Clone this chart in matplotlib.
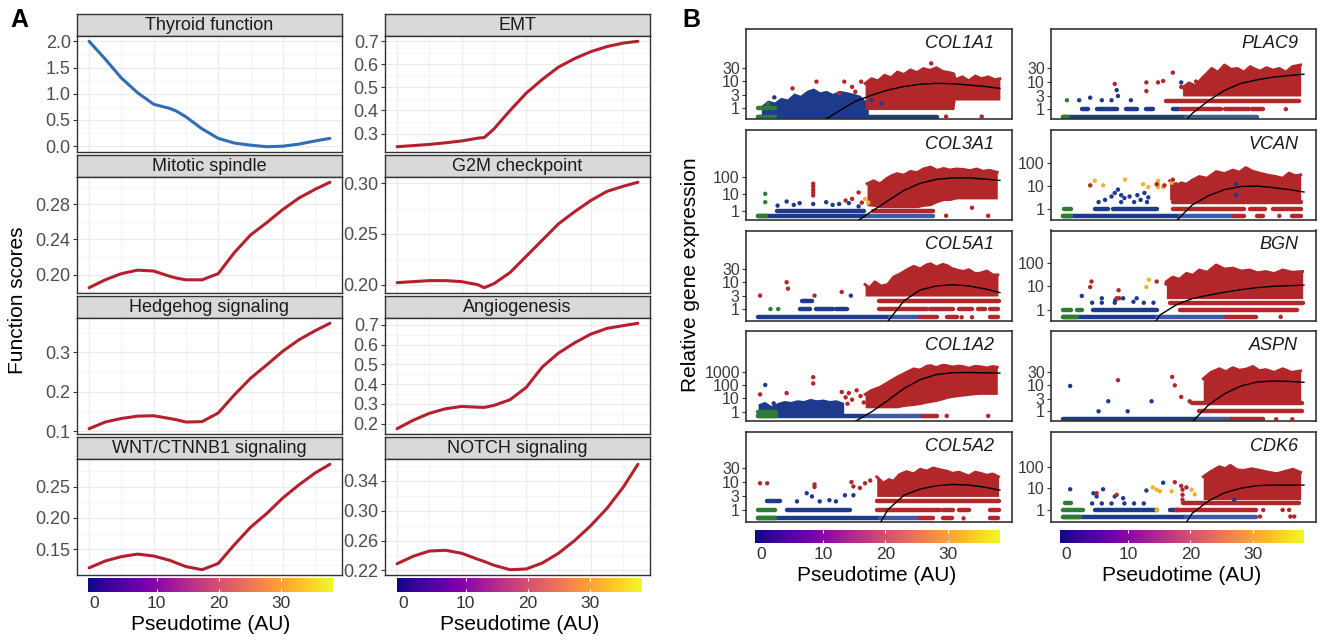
"""Pseudotime trends: (A) smoothed function scores, (B) marker gene expression."""

import numpy as np
import matplotlib.pyplot as plt
from matplotlib import rcParams
from matplotlib.ticker import NullLocator

rcParams.update({
    "font.family": ["Liberation Sans", "DejaVu Sans"],
    "font.size": 12,
})

FIG_W, FIG_H = 1322, 642

# ---- panel A: smoothed function scores along pseudotime ----
A_X = [0, 2.5, 5, 7.5, 10, 12.5, 13.5, 15, 17.5, 20, 22.5, 25, 27.5, 30, 32.5, 35, 37.3]
THYROID = [2.00, 1.66, 1.30, 1.02, 0.80, 0.72, 0.67, 0.56, 0.33, 0.15, 0.06, 0.02, -0.01, 0.00, 0.04, 0.10, 0.15]
EMT = [0.243, 0.248, 0.253, 0.260, 0.268, 0.280, 0.283, 0.320, 0.400, 0.475, 0.535, 0.588, 0.625, 0.655, 0.677, 0.692, 0.700]
MITOTIC = [0.185, 0.194, 0.201, 0.205, 0.204, 0.198, 0.196, 0.194, 0.194, 0.201, 0.225, 0.245, 0.259, 0.274, 0.287, 0.297, 0.305]
G2M = [0.202, 0.203, 0.204, 0.204, 0.203, 0.200, 0.197, 0.201, 0.212, 0.228, 0.244, 0.260, 0.272, 0.283, 0.292, 0.297, 0.301]
HEDGEHOG = [0.106, 0.123, 0.132, 0.138, 0.139, 0.132, 0.129, 0.123, 0.124, 0.146, 0.192, 0.234, 0.268, 0.303, 0.332, 0.355, 0.374]
ANGIO = [0.174, 0.217, 0.252, 0.275, 0.287, 0.283, 0.282, 0.292, 0.321, 0.383, 0.487, 0.557, 0.609, 0.653, 0.682, 0.696, 0.708]
WNT = [0.120, 0.131, 0.138, 0.142, 0.139, 0.132, 0.128, 0.122, 0.117, 0.127, 0.157, 0.185, 0.207, 0.232, 0.253, 0.272, 0.286]
NOTCH = [0.229, 0.239, 0.246, 0.247, 0.243, 0.235, 0.232, 0.227, 0.221, 0.222, 0.230, 0.243, 0.260, 0.280, 0.303, 0.331, 0.362]

A_GRID = [
    [("Thyroid function", THYROID, [0.0, 0.5, 1.0, 1.5, 2.0], "%.1f"),
     ("EMT", EMT, [0.3, 0.4, 0.5, 0.6, 0.7], "%.1f")],
    [("Mitotic spindle", MITOTIC, [0.20, 0.24, 0.28], "%.2f"),
     ("G2M checkpoint", G2M, [0.20, 0.25, 0.30], "%.2f")],
    [("Hedgehog signaling", HEDGEHOG, [0.1, 0.2, 0.3], "%.1f"),
     ("Angiogenesis", ANGIO, [0.2, 0.3, 0.4, 0.5, 0.6, 0.7], "%.1f")],
    [("WNT/CTNNB1 signaling", WNT, [0.15, 0.20, 0.25], "%.2f"),
     ("NOTCH signaling", NOTCH, [0.22, 0.26, 0.30, 0.34], "%.2f")],
]

# ---- panel B: expression of marker genes ----
GENES_LEFT = ["COL1A1", "COL3A1", "COL5A1", "COL1A2", "COL5A2"]
GENES_RIGHT = ["PLAC9", "VCAN", "BGN", "ASPN", "CDK6"]
B_YTICKS = {
    "COL1A1": [1, 3, 10, 30], "PLAC9": [1, 3, 10, 30],
    "COL3A1": [1, 10, 100], "VCAN": [1, 10, 100],
    "COL5A1": [1, 3, 10, 30], "BGN": [1, 10, 100],
    "COL1A2": [1, 10, 100, 1000], "ASPN": [1, 3, 10, 30],
    "COL5A2": [1, 3, 10, 30], "CDK6": [1, 10, 100],
}
B_YLIM = {
    "COL1A1": (0.41, 760), "PLAC9": (0.44, 800),
    "COL3A1": (0.29, 63000), "VCAN": (0.34, 2830),
    "COL5A1": (0.38, 760), "BGN": (0.35, 2390),
    "COL1A2": (0.2, 1e6), "ASPN": (0.42, 1070),
    "COL5A2": (0.37, 585), "CDK6": (0.28, 3900),
}

# fitted trend (black line)
B_CURVE_X = [0, 2.5, 5, 7.5, 10, 12.5, 15, 17.5, 20, 22.5, 25, 27.5, 30, 32.5, 35, 37.3]
B_CURVE = {
    "COL1A1": [0.1, 0.12, 0.15, 0.2, 0.35, 0.8, 1.8, 3.0, 4.6, 6.2, 7.5, 8.1, 7.8, 7.0, 6.2, 5.3],
    "PLAC9": [0.02, 0.02, 0.02, 0.02, 0.02, 0.03, 0.05, 0.15, 0.7, 2.0, 4.8, 8.5, 11.5, 14.4, 16.5, 18.5],
    "COL3A1": [0.01, 0.01, 0.01, 0.01, 0.02, 0.04, 0.2, 0.9, 3.8, 16, 42, 72, 88, 88, 75, 62],
    "VCAN": [0.01, 0.01, 0.01, 0.01, 0.01, 0.01, 0.02, 0.3, 1.5, 3.8, 7.0, 9.5, 10, 8.6, 7.0, 5.5],
    "COL5A1": [0.01, 0.01, 0.01, 0.01, 0.01, 0.01, 0.01, 0.05, 0.35, 2.0, 5.0, 7.0, 7.8, 7.0, 5.5, 4.0],
    "BGN": [0.01, 0.01, 0.01, 0.01, 0.01, 0.05, 0.6, 1.6, 3.0, 4.2, 5.6, 7.2, 8.8, 10, 10.7, 11.2],
    "COL1A2": [0.01, 0.01, 0.01, 0.01, 0.01, 0.01, 0.2, 1.0, 7, 55, 250, 600, 820, 850, 800, 770],
    "ASPN": [0.01, 0.01, 0.01, 0.01, 0.01, 0.01, 0.01, 0.02, 0.4, 1.7, 4.6, 9.0, 12.8, 14, 13.5, 12.5],
    "COL5A2": [0.01, 0.01, 0.01, 0.01, 0.01, 0.01, 0.01, 0.1, 1.0, 3.3, 5.5, 7.2, 8.0, 7.6, 6.4, 5.0],
    "CDK6": [0.01, 0.01, 0.01, 0.01, 0.01, 0.01, 0.01, 0.05, 0.7, 2.6, 6.2, 10, 13.2, 14, 14, 14],
}

# dense clouds of cells: outline
RED_CLOUD_X = {
    "COL1A1": [16.5, 17.5, 18.5, 19.5, 20.5, 21.5, 22.5, 23.5, 24.5, 25.5, 26.5, 27.5,
               28.5, 29.5, 30.2, 30.4, 31.5, 32.5, 33.5, 34.5, 35.5, 36.5, 37.3],
    "PLAC9": [18.5, 19.5, 20.5, 21.6, 22.3, 23, 24, 25, 26, 27, 28, 29, 29.5, 30.5,
              31.5, 32.5, 33.5, 34.5, 35.5, 36.8],
    "COL3A1": [16.8, 17.8, 18.8, 19.8, 20.6, 21.4, 22.5, 23.5, 24.5, 25.5, 26.6, 27.6,
               28.6, 29.6, 30.6, 31.7, 32.7, 33.7, 34.7, 35.7, 36.9],
    "VCAN": [16.5, 17.5, 18.3, 19.1, 20, 21.1, 22.3, 23.7, 25, 26.3, 27.3, 28.3, 29.3,
             30.4, 31.7, 33, 34, 35, 36, 36.8],
    "COL5A1": [16.5, 17.2, 18, 19, 20, 20.9, 22, 23, 24, 25, 26, 26.6, 27.5, 28.5, 29.1,
               30, 31, 31.7, 32.5, 33.5, 34.3, 35.3, 36.2, 37],
    "BGN": [16, 17, 18, 19.1, 20.1, 21.1, 22.3, 23.7, 25, 26.3, 27.6, 28.9, 30.1, 31.4,
            32.7, 34, 35.5, 37.1],
    "COL1A2": [16.5, 17.5, 18.8, 20, 21.4, 22.5, 24, 25, 26, 26.6, 27.5, 28.5, 29.1, 30,
               31, 31.7, 32.5, 33.5, 34.3, 35.3, 36.2, 36.9],
    "ASPN": [21.7, 22.9, 24.2, 25.2, 26.3, 27.3, 28.4, 29.4, 30.4, 31.4, 32.7, 34, 35.4, 36.8],
    "COL5A2": [18.3, 19.3, 20.2, 20.9, 21.8, 22.9, 24, 25, 26, 27, 28, 29.1, 30, 31, 31.7,
               32.5, 33.5, 34.3, 35.3, 36.2, 37.1],
    "CDK6": [21.7, 22.9, 24.2, 25.1, 25.9, 27, 28, 29.2, 30.5, 31.8, 33.1, 34.3, 35.6, 36.8],
}
RED_CLOUD_TOP = {
    "COL1A1": [8, 12, 10, 16, 13, 21, 17, 25, 20, 28, 24, 30, 22, 20, 18, 11, 14, 10, 15,
               12, 14, 11, 12],
    "PLAC9": [6, 9, 7, 14, 20, 30, 22, 40, 28, 30, 22, 35, 30, 24, 32, 26, 30, 22, 35, 40],
    "COL3A1": [40, 60, 39, 80, 120, 158, 130, 216, 180, 300, 390, 250, 320, 260, 300, 280,
               240, 300, 220, 250, 190],
    "VCAN": [17, 10, 14, 12, 18, 26, 22, 43, 35, 50, 40, 64, 45, 37, 30, 26, 22, 37, 28, 31],
    "COL5A1": [8, 6, 10, 7, 8, 15, 20, 28, 37, 30, 42, 46, 35, 44, 40, 30, 26, 24, 28, 20,
               21, 25, 18, 18],
    "BGN": [16, 25, 20, 36, 30, 50, 40, 82, 55, 60, 45, 50, 38, 43, 35, 50, 40, 43],
    "COL1A2": [20, 40, 68, 150, 380, 700, 1600, 1300, 2500, 2800, 2000, 3000, 2800, 2200,
               2600, 2300, 1800, 2500, 2300, 1900, 2400, 2100],
    "ASPN": [17, 30, 41, 32, 45, 36, 40, 50, 35, 38, 30, 41, 30, 34],
    "COL5A2": [15, 9, 12, 10.5, 18, 23, 19, 28, 24, 31, 27, 24, 20, 22, 19, 16, 22, 20, 17,
               19, 15],
    "CDK6": [34, 60, 99, 80, 115, 70, 67, 80, 67, 55, 47, 60, 76, 54],
}
RED_CLOUD_LOW = {
    "COL1A1": [0.9, 0.9, 0.9, 0.9, 0.9, 0.9, 0.9, 0.9, 0.9, 0.9, 0.9, 0.9, 0.9, 0.9, 0.9,
               2, 2, 2, 2, 2, 2, 2, 2],
    "PLAC9": [3, 3, 3, 3, 3, 3, 3, 3, 3, 3, 3, 3, 3, 3, 3, 3, 3, 3, 3, 3],
    "COL3A1": [2, 1.8, 1.5, 1.5, 1.5, 1.5, 1.5, 1.5, 1.5, 1.8, 2, 3, 4, 4, 5, 5, 5, 5, 5,
               5, 5],
    "VCAN": [2.5, 2.5, 2.5, 2.5, 2.5, 2.5, 2.5, 2.5, 2.5, 2.5, 2.5, 2.5, 2.5, 2.5, 2.5,
             2.5, 2.5, 2.5, 2.5, 2.5],
    "COL5A1": [3, 3, 3, 3, 3, 3, 3, 3, 3, 3, 3, 3, 3, 3, 3, 3, 3, 3, 3, 3, 3, 3, 3, 3],
    "BGN": [3, 3, 3, 3, 3, 3, 3, 3, 3, 3, 3, 3, 3, 3, 3, 3, 3, 3],
    "COL1A2": [2, 2, 2, 2, 2, 2.5, 3, 3.5, 4.5, 5, 6, 8, 10, 12, 14, 15, 17, 19, 20, 20,
               20, 20],
    "ASPN": [2.5, 2.5, 2.5, 2.5, 2.5, 2.5, 2.5, 2.5, 2.5, 2.5, 2.5, 2.5, 2.5, 2.5],
    "COL5A2": [3, 3, 3, 3, 3, 3, 3, 3, 3, 3, 3, 3, 3, 3, 3, 3, 3, 3, 3, 3, 3],
    "CDK6": [3, 3, 3, 3, 3, 3, 3, 3, 3, 3, 3, 3, 3, 3],
}
BLUE_CLOUD_X = {
    "COL1A1": [0.5, 1.5, 2.5, 3.5, 4.5, 5.5, 6.5, 7.5, 8.5, 9.5, 10.5, 11.5, 12.5, 13.7,
               14.7, 15.7, 17],
    "COL1A2": [0, 1, 2, 3, 4, 5, 6, 7, 8, 9, 10, 11, 12, 13.2],
}
BLUE_CLOUD_TOP = {
    "COL1A1": [1.3, 2, 1.7, 2.5, 2.2, 3.6, 3, 4.5, 5.5, 4, 4.5, 3.5, 4.5, 4, 3.5, 3, 1.5],
    "COL1A2": [4, 6, 3, 5, 7, 6, 8, 7, 10, 8, 9, 7, 8, 5],
}
BLUE_CLOUD_LOW = {
    "COL1A1": [0.55, 0.55, 0.55, 0.55, 0.55, 0.55, 0.55, 0.55, 0.55, 0.55, 0.55, 0.55,
               0.55, 0.55, 0.55, 0.55, 0.55],
    "COL1A2": [0.55, 0.55, 0.55, 0.55, 0.55, 0.55, 0.55, 0.55, 0.55, 0.55, 0.55, 0.55,
               0.55, 0.55],
}

# rows of cells at the same discrete value: (from, to, value, cell type)
ROWS = {
    "COL1A1": [(0, 27.6, 0.5, "b"), (0, 2.6, 0.5, "g"), (0, 2.6, 1, "g")],
    "PLAC9": [(0, 19, 0.5, "b"), (19, 30, 0.5, "m"), (0, 0.8, 0.5, "g"),
              (2.9, 3.9, 1, "b"), (5.2, 8.3, 1, "b"), (9.8, 11.4, 1, "b"),
              (12.9, 13.9, 1, "b"), (17, 18, 1, "b"), (18.3, 24.5, 1, "r"),
              (25, 28.8, 1, "r"), (29.2, 30.9, 1, "r"), (16, 36.6, 2, "r")],
    "COL3A1": [(0, 16.8, 0.5, "b"), (16.8, 27, 0.5, "m"), (0, 1.2, 0.5, "g"),
               (2.9, 16.3, 1, "b"), (17.8, 27, 1, "r")],
    "VCAN": [(0, 18.1, 0.5, "b"), (18.1, 26.5, 0.5, "m"), (26.5, 28, 0.5, "r"),
             (30, 31, 0.5, "r"), (35.5, 36.8, 0.5, "r"), (0, 1.3, 0.5, "g"),
             (0.2, 1.3, 1, "g"), (4.9, 7, 1, "b"), (7.7, 14.5, 1, "b"),
             (17, 28, 1, "r"), (29, 31.3, 1, "r"), (32.5, 36.8, 1, "r"),
             (17, 36.8, 2, "r")],
    "COL5A1": [(0, 20.4, 0.5, "b"), (20.4, 25, 0.5, "m"), (25, 27.6, 0.5, "r"),
               (29.1, 30.7, 0.5, "r"), (35.8, 37, 0.5, "r"), (6.5, 8, 1, "b"),
               (9, 11.5, 1, "b"), (12, 13.7, 1, "b"), (18.6, 26, 1, "r"),
               (26.5, 30, 1, "r"), (31, 33, 1, "r"), (34, 35, 1, "r"),
               (35.8, 37, 1, "r"), (6.7, 8.3, 2, "b"), (18.6, 37.2, 2, "r")],
    "BGN": [(0, 14.5, 0.5, "b"), (14.5, 25.3, 0.5, "m"), (25.3, 29.9, 0.5, "r"),
            (0, 2.1, 0.5, "g"), (0, 1.3, 1, "g"), (2.1, 2.9, 1, "g"),
            (4.7, 14.5, 1, "b"), (18.1, 36.3, 1, "r"), (16.5, 37.1, 2, "r")],
    "COL1A2": [(0, 16.5, 0.5, "b"), (16.5, 25.5, 0.5, "m"), (25.5, 27.6, 0.5, "r"),
               (0, 2.8, 0.5, "g"), (0, 2.8, 1, "g")],
    "ASPN": [(0, 21, 0.5, "b"), (21, 26, 0.5, "m"), (26, 31, 0.5, "r"),
             (21, 37, 1, "r"), (20, 37, 2, "r")],
    "COL5A2": [(0, 18.8, 0.5, "b"), (18.8, 25, 0.5, "m"), (25, 27, 0.5, "r"),
               (28.6, 29.9, 0.5, "r"), (35.8, 37, 0.5, "r"), (0, 2.6, 0.5, "g"),
               (0, 2.6, 1, "g"), (4.4, 14.2, 1, "b"), (18.3, 28, 1, "r"),
               (28.6, 30, 1, "r"), (31, 32.5, 1, "r"), (35.8, 37.2, 1, "r"),
               (1.3, 3.4, 2, "b"), (18.3, 37.2, 2, "r")],
    "CDK6": [(0, 19.1, 0.5, "b"), (19.1, 29.9, 0.5, "m"), (0, 2.6, 0.5, "g"),
             (0, 3.1, 1, "g"), (4.9, 14.5, 1, "b"), (16.5, 18, 1, "b"),
             (17.5, 29.9, 1, "r"), (0.3, 1.3, 2, "g"), (18.6, 36.6, 2, "r")],
}

# single visible cells: (pseudotime, expression, cell type)
POINTS = {
    "COL1A1": [(5.3, 5.3, "r"), (9.0, 9.3, "r"), (13.3, 9.3, "r"), (15.9, 9.3, "r"),
               (14.5, 6, "r"), (26.7, 43, "r"), (29, 0.5, "r"), (34.5, 0.5, "r"),
               (12.5, 3.5, "r"), (15, 4, "r"), (2.5, 2.5, "b"), (17.5, 2, "b"),
               (19, 1.5, "b"), (1.5, 1.5, "g")],
    "PLAC9": [(0.6, 2.1, "g"), (4.2, 2.6, "b"), (6, 2.1, "b"), (8.3, 4.9, "b"),
              (8.5, 3.0, "b"), (18.3, 9.3, "b"), (2.5, 2.1, "b"), (7.5, 2.1, "b"),
              (10.5, 2.1, "b"), (8.0, 8.2, "r"), (12.9, 9.3, "r"), (12.9, 4.5, "r"),
              (14.7, 9.3, "r"), (15.5, 10.5, "r"), (17.0, 21, "r"), (18.3, 6.4, "r"),
              (19.4, 7, "r"), (20.6, 10, "r"), (21.4, 6.5, "r"), (34.5, 1, "r")],
    "COL3A1": [(1.1, 10, "g"), (1.1, 3.2, "g"), (4.4, 3.5, "b"), (6.4, 2.8, "b"),
               (8.5, 2.5, "b"), (10.5, 3.2, "b"), (12.5, 2.5, "b"), (14, 2.8, "b"),
               (15.5, 1.8, "b"), (5.5, 2.2, "b"), (11.5, 2.2, "b"), (3, 2, "b"),
               (8.5, 40, "r"), (8.5, 28, "r"), (8.5, 18, "r"), (8.5, 12, "r"),
               (8.5, 8, "r"), (14.5, 5, "r"), (15.5, 12, "r"), (16, 3, "r"),
               (13.5, 4, "r"), (29, 0.5, "r"), (35.5, 0.5, "r"), (33, 1.5, "r"),
               (16.5, 5, "y"), (17, 3, "y")],
    "VCAN": [(7.5, 3.5, "b"), (8, 5, "b"), (8.5, 7, "b"), (9, 4, "b"), (9.5, 3, "b"),
             (10.3, 3.5, "b"), (11.5, 4, "b"), (12.6, 5, "b"), (13.2, 3.2, "b"),
             (6.5, 2.5, "b"), (12, 2.5, "b"), (26.8, 12, "b"), (26.8, 4, "b"),
             (5.5, 2, "b"), (9, 2, "b"), (11, 2, "b"), (13, 2, "b"),
             (4.9, 17, "y"), (6.2, 10.7, "y"), (9.6, 19, "y"), (12.4, 12, "y"),
             (13.2, 9, "y"), (14.7, 17, "y"), (14.7, 12, "y"), (14.7, 9, "y"),
             (15.5, 9, "y"), (16.8, 14, "y"), (4.2, 10.7, "r"), (14.5, 12, "r"),
             (15.7, 10.7, "r"), (17, 19, "r"), (17.5, 12, "r"), (33.5, 0.5, "r")],
    "COL5A1": [(1.9, 1, "g"), (3.1, 1, "g"), (14.3, 3.1, "b"), (7.3, 2, "b"),
               (0.3, 3.1, "r"), (4.4, 9.6, "r"), (4.6, 5.6, "r"), (8.7, 3.1, "r"),
               (12.9, 4.2, "r"), (31.4, 0.5, "r"), (33, 0.5, "r")],
    "BGN": [(2.9, 3.9, "b"), (6.0, 3.1, "b"), (8.1, 2.6, "b"), (9.3, 3.1, "b"),
            (10.9, 2.2, "b"), (11.4, 3.1, "b"), (14, 2, "b"), (4.5, 2, "b"),
            (6, 2, "b"), (8, 2, "b"), (12.5, 2, "b"), (4.4, 16, "r"), (4.2, 9.3, "r"),
            (8.6, 6.8, "r"), (8.7, 3.1, "r"), (8.3, 3.1, "r"), (14.5, 16, "r"),
            (16, 13, "r"), (17, 6.8, "r"), (33.7, 0.5, "r"), (12.9, 9.3, "y"),
            (13.3, 19, "y")],
    "COL1A2": [(1.1, 100, "b"), (2.4, 4.3, "b"), (0.3, 20, "r"), (4.4, 25, "r"),
               (8.5, 380, "r"), (8.5, 130, "r"), (35.5, 130, "r"), (35.5, 33, "r"),
               (12.9, 30, "r"), (13.5, 12, "r"), (14, 25, "r"), (14.5, 8, "r"),
               (15.2, 40, "r"), (15.8, 15, "r"), (16.3, 5, "r"), (13.8, 4, "r"),
               (29.1, 0.5, "r"), (35.5, 0.5, "r")],
    "ASPN": [(1.1, 9.1, "b"), (7, 2.4, "b"), (13.7, 2.4, "b"), (5.5, 1, "b"),
             (10, 1, "b"), (8.5, 15, "r"), (16.9, 20, "r"), (17.3, 9.6, "r"),
             (18.3, 3.5, "r"), (19.6, 2.4, "r"), (33, 0.5, "r"), (35.5, 0.5, "r")],
    "COL5A2": [(0.3, 8.8, "r"), (1.4, 8.8, "r"), (8.7, 6.5, "r"), (8.7, 8, "r"),
               (14.4, 9.7, "r"), (14.7, 6.8, "r"), (15.7, 6, "r"), (16.5, 8.8, "r"),
               (17.3, 11, "r"), (31.7, 0.5, "r"), (7.5, 3.9, "b"), (8.3, 3.0, "b"),
               (11, 2.2, "b"), (13.4, 3.3, "b"), (14.7, 3.3, "b"), (6, 2, "b"),
               (9.5, 2, "b"), (12, 2, "b")],
    "CDK6": [(1.1, 9, "b"), (4.7, 5.9, "b"), (5.2, 4.2, "b"), (6.2, 9, "b"),
             (8.0, 4.2, "b"), (9.3, 3.5, "b"), (12.9, 7.9, "b"), (15.5, 18, "b"),
             (26.5, 2.9, "b"), (4.5, 2, "b"), (6, 2, "b"), (7.5, 2, "b"),
             (9.5, 2, "b"), (11, 2, "b"), (12.5, 2, "b"), (13.9, 11, "y"),
             (14.5, 8.6, "y"), (15, 7.3, "y"), (16.8, 7.3, "y"), (19.9, 8.6, "y"),
             (20.4, 5.2, "y"), (14.5, 1, "y"), (5.2, 5.9, "r"), (8.3, 5, "r"),
             (17.3, 19, "r"), (18.3, 13, "r"), (18.5, 8.6, "r"), (18.5, 5, "r"),
             (18.5, 3, "r"), (19.1, 11, "r"), (30.5, 0.5, "r"), (35.2, 0.5, "r"),
             (35.8, 0.5, "r"), (31, 1, "r"), (34, 1, "r"), (35, 1, "r")],
}

CELL_COLORS = {"r": "#B2282A", "b": "#1E3A8A", "m": "#3E5BA9",
               "g": "#2E7D32", "y": "#F2B134"}
PT_MAX = 37.3          # pseudotime range of the colour legend
PT_TICKS = [0, 10, 20, 30]
X_LIM = (-1.87, 39.17)


def box(l, t, r, b):
    """Figure rectangle from pixel edges (top-left origin)."""
    return [l / FIG_W, 1 - b / FIG_H, (r - l) / FIG_W, (b - t) / FIG_H]


def pseudotime_bar(l, r, t, b):
    cax = fig.add_axes(box(l, t, r, b))
    pad = 0.5 * PT_MAX / 19
    gradient = np.linspace(0, 1, 256)[None, :]
    cax.imshow(gradient, aspect="auto", cmap="plasma",
               extent=(-pad, PT_MAX + pad, 0, 1))
    cax.vlines(PT_TICKS[1:], 0, 0.2, color="white", lw=0.8)
    cax.vlines(PT_TICKS[1:], 0.8, 1, color="white", lw=0.8)
    cax.set_xlim(-pad, PT_MAX + pad)
    cax.set_ylim(0, 1)
    cax.set_yticks([])
    cax.set_xticks(PT_TICKS)
    cax.set_xticklabels([str(t) for t in PT_TICKS])
    cax.tick_params(axis="x", length=0, labelsize=12.5, labelcolor="#333333", pad=3)
    for s in cax.spines.values():
        s.set_visible(False)
    cax.set_xlabel("Pseudotime (AU)", fontsize=15, labelpad=3)


fig = plt.figure(figsize=(FIG_W / 100, FIG_H / 100), dpi=100)

# ---- (A) ----
a_cols = [(77, 342), (385, 650)]
for r, row in enumerate(A_GRID):
    top = 14 + 141 * r
    for c, (name, vals, yt, fmt) in enumerate(row):
        l, rr = a_cols[c]
        sax = fig.add_axes(box(l, top, rr, top + 22))
        sax.set_facecolor("#D9D9D9")
        sax.set_xticks([])
        sax.set_yticks([])
        for s in sax.spines.values():
            s.set_color("#333333")
            s.set_linewidth(1.0)
        sax.text(0.5, 0.47, name, ha="center", va="center", fontsize=13,
                 color="#1A1A1A", transform=sax.transAxes)

        ax = fig.add_axes(box(l, top + 22, rr, top + 138))
        color = "#2F6DB5" if name == "Thyroid function" else "#B5202E"
        ax.plot(A_X, vals, color=color, lw=2.2, solid_capstyle="round")
        ax.set_xticks([0, 10, 20, 30])
        ax.set_xticks([5, 15, 25, 35], minor=True)
        step = yt[1] - yt[0]
        ax.set_yticks(yt)
        ax.set_yticklabels([fmt % v for v in yt])
        ax.set_yticks([yt[0] - step / 2] + [v + step / 2 for v in yt], minor=True)
        lo, hi = min(vals), max(vals)
        ax.set_ylim(lo - 0.05 * (hi - lo), hi + 0.05 * (hi - lo))
        ax.set_xlim(*X_LIM)
        ax.grid(which="major", color="#EBEBEB", lw=0.9)
        ax.grid(which="minor", color="#F3F3F3", lw=0.6)
        ax.set_axisbelow(True)
        ax.tick_params(axis="x", which="both", length=0, labelbottom=False)
        ax.tick_params(axis="y", which="minor", length=0)
        ax.tick_params(axis="y", which="major", length=3, width=0.8, color="#333333",
                       labelsize=13, labelcolor="#4D4D4D", pad=1.5)
        for s in ax.spines.values():
            s.set_color("#333333")
            s.set_linewidth(1.0)

pseudotime_bar(88, 333, 578, 592)
pseudotime_bar(397, 642, 578, 592)
fig.text(18 / FIG_W, 1 - 300 / FIG_H, "Function scores", rotation=90,
         ha="center", va="center", fontsize=15)
fig.text(10 / FIG_W, 1 - 20 / FIG_H, "A", fontsize=18, fontweight="bold",
         ha="left", va="center")

# ---- (B) ----
b_cols = [(746, 1012, GENES_LEFT), (1051, 1316, GENES_RIGHT)]
for l, rr, genes in b_cols:
    for k, gene in enumerate(genes):
        top = 29 + 100.75 * k
        ax = fig.add_axes(box(l, top, rr, top + 90))
        ax.set_yscale("log")
        for x0, x1, lv, cell in ROWS[gene]:
            ax.hlines(lv, x0, x1, color=CELL_COLORS[cell], lw=3.2, capstyle="round")
        if gene in BLUE_CLOUD_X:
            ax.fill_between(BLUE_CLOUD_X[gene], BLUE_CLOUD_LOW[gene],
                            BLUE_CLOUD_TOP[gene], color=CELL_COLORS["b"], lw=0)
        ax.fill_between(RED_CLOUD_X[gene], RED_CLOUD_LOW[gene], RED_CLOUD_TOP[gene],
                        color=CELL_COLORS["r"], lw=0)
        ax.plot(RED_CLOUD_X[gene], RED_CLOUD_TOP[gene], color=CELL_COLORS["r"],
                lw=2.0, solid_joinstyle="round")
        px = [p[0] for p in POINTS[gene]]
        py = [p[1] for p in POINTS[gene]]
        pc = [CELL_COLORS[p[2]] for p in POINTS[gene]]
        ax.scatter(px, py, s=10, c=pc, lw=0, zorder=3)
        ax.plot(B_CURVE_X, B_CURVE[gene], color="black", lw=1.0, zorder=4)
        ax.set_xlim(*X_LIM)
        ax.set_ylim(*B_YLIM[gene])
        ax.set_xticks([])
        ax.set_yticks(B_YTICKS[gene])
        ax.set_yticklabels([str(v) for v in B_YTICKS[gene]])
        ax.yaxis.set_minor_locator(NullLocator())
        ax.tick_params(axis="y", length=3, width=0.8, color="#333333",
                       labelsize=11.5, labelcolor="#3A3A3A", pad=1.5)
        for s in ax.spines.values():
            s.set_color("#333333")
            s.set_linewidth(1.2)
        ax.text(0.932, 0.84, gene, transform=ax.transAxes, ha="right", va="center",
                fontsize=13, style="italic", color="#1A1A1A")

pseudotime_bar(755, 999, 530, 543)
pseudotime_bar(1060, 1304, 530, 543)
fig.text(690 / FIG_W, 1 - 275 / FIG_H, "Relative gene expression", rotation=90,
         ha="center", va="center", fontsize=15)
fig.text(682 / FIG_W, 1 - 20 / FIG_H, "B", fontsize=18, fontweight="bold",
         ha="left", va="center")

fig.savefig("out.png", dpi=100)
print("saved out.png")
